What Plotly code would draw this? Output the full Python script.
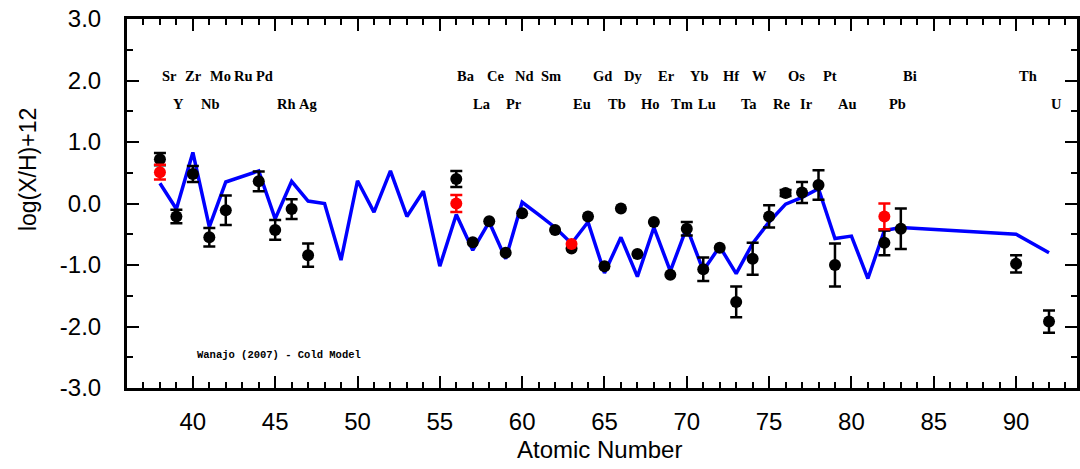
import plotly.graph_objects as go

# ---------------- data ----------------
# Wanajo (2007) cold r-process model
model_z = [38, 39, 40, 41, 42, 43, 44, 45, 46, 47, 48, 49, 50, 51, 52, 53, 54, 55,
           56, 57, 58, 59, 60, 61, 62, 63, 64, 65, 66, 67, 68, 69, 70, 71, 72, 73,
           74, 75, 76, 77, 78, 79, 80, 81, 82, 83, 90, 92]
model_y = [0.33, -0.09, 0.83, -0.38, 0.35, 0.44, 0.53, -0.25, 0.36, 0.04, 0.00, -0.92,
           0.37, -0.14, 0.53, -0.21, 0.20, -1.02, -0.18, -0.76, -0.30, -0.90, 0.02,
           -0.18, -0.39, -0.65, -0.30, -1.13, -0.55, -1.19, -0.39, -1.10, -0.39, -1.09,
           -0.70, -1.14, -0.65, -0.30, -0.01, 0.10, 0.24, -0.57, -0.53, -1.22, -0.44,
           -0.39, -0.50, -0.80]

# observed abundances (black)
obs_z = [38, 39, 40, 41, 42, 44, 45, 46, 47, 56, 57, 58, 59, 60, 62, 63, 64, 65, 66,
         67, 68, 69, 70, 71, 72, 73, 74, 75, 76, 77, 78, 79, 82, 83, 90, 92]
obs_y = [0.72, -0.21, 0.48, -0.55, -0.11, 0.36, -0.43, -0.09, -0.84, 0.40, -0.63,
         -0.29, -0.80, -0.16, -0.43, -0.73, -0.21, -1.02, -0.08, -0.82, -0.30, -1.16,
         -0.41, -1.07, -0.72, -1.60, -0.90, -0.21, 0.17, 0.18, 0.30, -1.00, -0.64,
         -0.41, -0.98, -1.92]
obs_err = [0.10, 0.11, 0.13, 0.15, 0.24, 0.16, 0.16, 0.16, 0.19, 0.13, 0, 0, 0, 0, 0,
           0, 0, 0, 0, 0, 0, 0, 0.11, 0.19, 0, 0.25, 0.26, 0.18, 0.05, 0.17, 0.24,
           0.35, 0.20, 0.33, 0.14, 0.18]

# second set of abundances (red)
red_z = [38, 56, 63, 82]
red_y = [0.51, 0.00, -0.66, -0.21]
red_err = [0.12, 0.14, 0, 0.21]

# element labels (two rows)
row1_labels = ["Sr", "Zr", "Mo", "Ru", "Pd", "Ba", "Ce", "Nd", "Sm", "Gd", "Dy", "Er",
               "Yb", "Hf", "W", "Os", "Pt", "Bi", "Th"]
row2_labels = ["Y", "Nb", "Rh", "Ag", "La", "Pr", "Eu", "Tb", "Ho", "Tm", "Lu", "Ta",
               "Re", "Ir", "Au", "Pb", "U"]

y_tickvals = [-3, -2, -1, 0, 1, 2, 3]
y_ticktext = ["-3.0", "-2.0", "-1.0", "0.0", "1.0", "2.0", "3.0"]

# ---------------- layout positions ----------------
row1_x = [38.61, 40.03, 41.65, 43.10, 44.35, 56.58, 58.40, 60.15, 61.73, 64.88, 66.75,
          68.75, 70.75, 72.68, 74.44, 76.68, 78.68, 83.58, 90.72]
row2_x = [39.15, 41.09, 45.69, 47.02, 57.55, 59.49, 63.61, 65.78, 67.78, 69.70, 71.25,
          73.77, 75.77, 77.29, 79.77, 82.80, 92.48]
ROW1_Y, ROW2_Y = 2.07, 1.62

fig = go.Figure()

fig.add_trace(go.Scatter(x=model_z, y=model_y, mode="lines",
                         line=dict(color="#0000ff", width=3.5), showlegend=False))


def add_points(z, y, e, color):
    ze = [a for a, b in zip(z, e) if b > 0]
    ye = [a for a, b in zip(y, e) if b > 0]
    ee = [b for b in e if b > 0]
    zn = [a for a, b in zip(z, e) if b == 0]
    yn = [a for a, b in zip(y, e) if b == 0]
    fig.add_trace(go.Scatter(x=zn, y=yn, mode="markers",
                             marker=dict(color=color, size=12), showlegend=False))
    fig.add_trace(go.Scatter(x=ze, y=ye, mode="markers",
                             marker=dict(color=color, size=12),
                             error_y=dict(type="data", array=ee, visible=True,
                                          color=color, thickness=2.5, width=6),
                             showlegend=False))


add_points(obs_z, obs_y, obs_err, "black")
add_points(red_z, red_y, red_err, "#ff0000")

label_font = dict(family="Liberation Serif", size=14.5, color="black", weight="bold")
for t, x in zip(row1_labels, row1_x):
    fig.add_annotation(x=x, y=ROW1_Y, text=t, showarrow=False, font=label_font,
                       xanchor="center", yanchor="middle")
for t, x in zip(row2_labels, row2_x):
    fig.add_annotation(x=x, y=ROW2_Y, text=t, showarrow=False, font=label_font,
                       xanchor="center", yanchor="middle")

fig.add_annotation(x=40.12, y=-2.46, text="Wanajo (2007) - Cold Model", showarrow=False,
                   xanchor="left", yanchor="middle",
                   font=dict(family="Liberation Mono", size=10.5, color="black",
                             weight="bold"))

# axis titles
fig.add_annotation(xref="paper", yref="paper", x=0.497, y=-0.168, text="Atomic Number",
                   showarrow=False, xanchor="center", yanchor="middle",
                   font=dict(family="Liberation Sans", size=24, color="black"))
fig.add_annotation(xref="paper", yref="paper", x=-0.104, y=0.591, text="log(X/H)+12",
                   showarrow=False, xanchor="center", yanchor="middle", textangle=-90,
                   font=dict(family="Liberation Sans", size=23, color="black"))

axis_common = dict(showline=True, linecolor="black", linewidth=3, mirror="allticks",
                   ticks="inside", ticklen=12, tickwidth=2, tickcolor="black",
                   showgrid=False, zeroline=False,
                   tickfont=dict(family="Liberation Sans", size=24, color="black"))

fig.update_layout(
    width=1080, height=469,
    margin=dict(l=127, r=0, t=19, b=81),
    paper_bgcolor="white", plot_bgcolor="white",
    xaxis=dict(range=[36, 93.7], tick0=0, dtick=5,
               minor=dict(tick0=0, dtick=1, ticks="inside", ticklen=6, tickwidth=2,
                          tickcolor="black"),
               ticklabelstandoff=10, **axis_common),
    yaxis=dict(range=[-3, 3], tickmode="array", tickvals=y_tickvals, ticktext=y_ticktext,
               minor=dict(tickmode="array", tickvals=[-2.5, -1.5, -0.5, 0.5, 1.5, 2.5],
                          ticks="inside", ticklen=6, tickwidth=2, tickcolor="black"),
               ticklabelstandoff=18, **axis_common),
)

fig.write_html("out.html")
